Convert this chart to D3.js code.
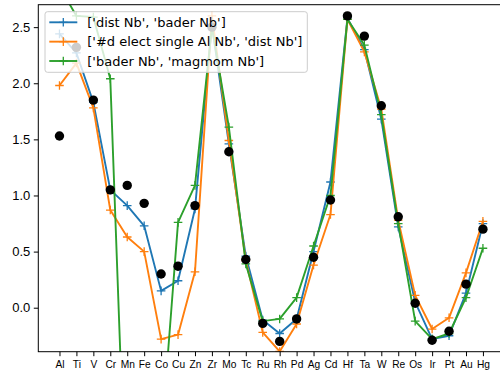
<!DOCTYPE html>
<html>
<head>
<meta charset="utf-8">
<script src="https://cdn.jsdelivr.net/npm/d3@7"></script>
<style>
  body { margin: 0; background: #fff; }
  svg { display: block; font-family: "DejaVu Sans", sans-serif; }
</style>
</head>
<body>
<div id="chart"></div>
<script>
// elements along the x axis
const elements = ['Al','Ti','V','Cr','Mn','Fe','Co','Cu','Zn','Zr','Mo','Tc','Ru','Rh','Pd','Ag','Cd','Hf','Ta','W','Re','Os','Ir','Pt','Au','Hg']

// three fitted series
const distBader = [2.44,2.27,1.83,1.05,0.91,0.73,0.15,0.24,0.88,2.52,1.46,0.46,-0.11,-0.23,-0.10,0.50,1.12,2.58,2.30,1.68,0.72,0.05,-0.28,-0.25,0.13,0.75]
const elecDist   = [1.98,2.18,1.78,0.87,0.63,0.50,-0.28,-0.24,0.32,2.60,1.49,0.42,-0.22,-0.39,-0.145,0.38,0.83,2.57,2.28,1.77,0.78,0.11,-0.19,-0.09,0.31,0.77]
const baderMag   = [2.86,2.60,2.59,2.04,-2.10,-2.00,-1.20,0.76,1.09,2.50,1.61,0.39,-0.12,-0.10,0.09,0.55,1.00,2.57,2.34,1.72,0.75,-0.12,-0.28,-0.23,0.09,0.53]

// target values (black dots)
const target = [1.53,2.32,1.85,1.05,1.09,0.93,0.30,0.37,0.91,2.50,1.39,0.43,-0.14,-0.30,-0.10,0.45,0.96,2.60,2.42,1.80,0.81,0.04,-0.29,-0.21,0.21,0.70]

const seriesNames = ["['dist Nb', 'bader Nb']", "['#d elect single Al Nb', 'dist Nb']", "['bader Nb', 'magmom Nb']"]
const seriesColors = ['#1f77b4', '#ff7f0e', '#2ca02c']
const yTicks = [0.0, 0.5, 1.0, 1.5, 2.0, 2.5]

const W = 500, H = 374
const m = {left: 38.3, right: 504.1, top: 4.7, bottom: 351.7}

const svg = d3.select('#chart').append('svg')
	.attr('width', W)
	.attr('height', H)

const x = d3.scaleLinear().domain([-1.25, elements.length - 1 + 1.25]).range([m.left, m.right])
const y = d3.scaleLinear().domain([-0.392, 2.70]).range([m.bottom, m.top])

svg.append('clipPath').attr('id', 'plotclip')
	.append('rect')
	.attr('x', m.left).attr('y', m.top)
	.attr('width', m.right - m.left).attr('height', m.bottom - m.top)

const plot = svg.append('g').attr('clip-path', 'url(#plotclip)')

const line = d3.line()
	.x((d, i) => x(i))
	.y(d => y(d))

const allSeries = [distBader, elecDist, baderMag]
allSeries.forEach(function(vals, k) {
	plot.append('path')
		.attr('d', line(vals))
		.attr('fill', 'none')
		.attr('stroke', seriesColors[k])
		.attr('stroke-width', 1.9)
		.attr('stroke-linejoin', 'round')
	plot.selectAll('.plus' + k)
		.data(vals)
		.enter().append('path')
		.attr('class', 'plus' + k)
		.attr('d', (d, i) => 'M' + (x(i) - 4.3) + ',' + y(d) + 'h8.6M' + x(i) + ',' + (y(d) - 4.3) + 'v8.6')
		.attr('stroke', seriesColors[k])
		.attr('stroke-width', 1.3)
})

plot.selectAll('.dot')
	.data(target)
	.enter().append('circle')
	.attr('class', 'dot')
	.attr('cx', (d, i) => x(i))
	.attr('cy', d => y(d))
	.attr('r', 4.7)
	.attr('fill', 'black')

// axes
const xAxis = svg.append('g')
	.attr('transform', 'translate(0,' + m.bottom + ')')
	.call(d3.axisBottom(x).tickValues(d3.range(elements.length)).tickFormat(i => elements[i]).tickSize(4.5).tickPadding(4.5))
xAxis.select('.domain').remove()
xAxis.selectAll('text').style('font-size', '10.2px').attr('fill', '#000')

const yAxis = svg.append('g')
	.attr('transform', 'translate(' + m.left + ',0)')
	.call(d3.axisLeft(y).tickValues(yTicks).tickFormat(d3.format('.1f')).tickSize(4.5).tickPadding(3.5))
yAxis.select('.domain').remove()
yAxis.selectAll('text').style('font-size', '13px').attr('fill', '#000')

svg.selectAll('.tick line').attr('stroke', '#000').attr('stroke-width', 1)

// spines
svg.append('rect')
	.attr('x', m.left).attr('y', m.top)
	.attr('width', m.right - m.left).attr('height', m.bottom - m.top)
	.attr('fill', 'none')
	.attr('stroke', '#000')
	.attr('stroke-width', 1)

// legend
const legend = svg.append('g').attr('transform', 'translate(45,11.7)')
legend.append('rect')
	.attr('width', 262.3)
	.attr('height', 60.6)
	.attr('rx', 2.5)
	.attr('fill', 'white')
	.attr('fill-opacity', 0.8)
	.attr('stroke', '#cccccc')
	.attr('stroke-width', 1)

seriesNames.forEach(function(name, k) {
	const ly = 10.6 + k * 19.35
	legend.append('line')
		.attr('x1', 4.3).attr('x2', 32.3)
		.attr('y1', ly).attr('y2', ly)
		.attr('stroke', seriesColors[k])
		.attr('stroke-width', 1.9)
	legend.append('path')
		.attr('d', 'M' + (18.3 - 4.3) + ',' + ly + 'h8.6M18.3,' + (ly - 4.3) + 'v8.6')
		.attr('stroke', seriesColors[k])
		.attr('stroke-width', 1.3)
	legend.append('text')
		.attr('x', 42.3)
		.attr('y', ly)
		.attr('dy', '0.36em')
		.style('font-size', '13px')
		.text(name)
})
</script>
</body>
</html>
